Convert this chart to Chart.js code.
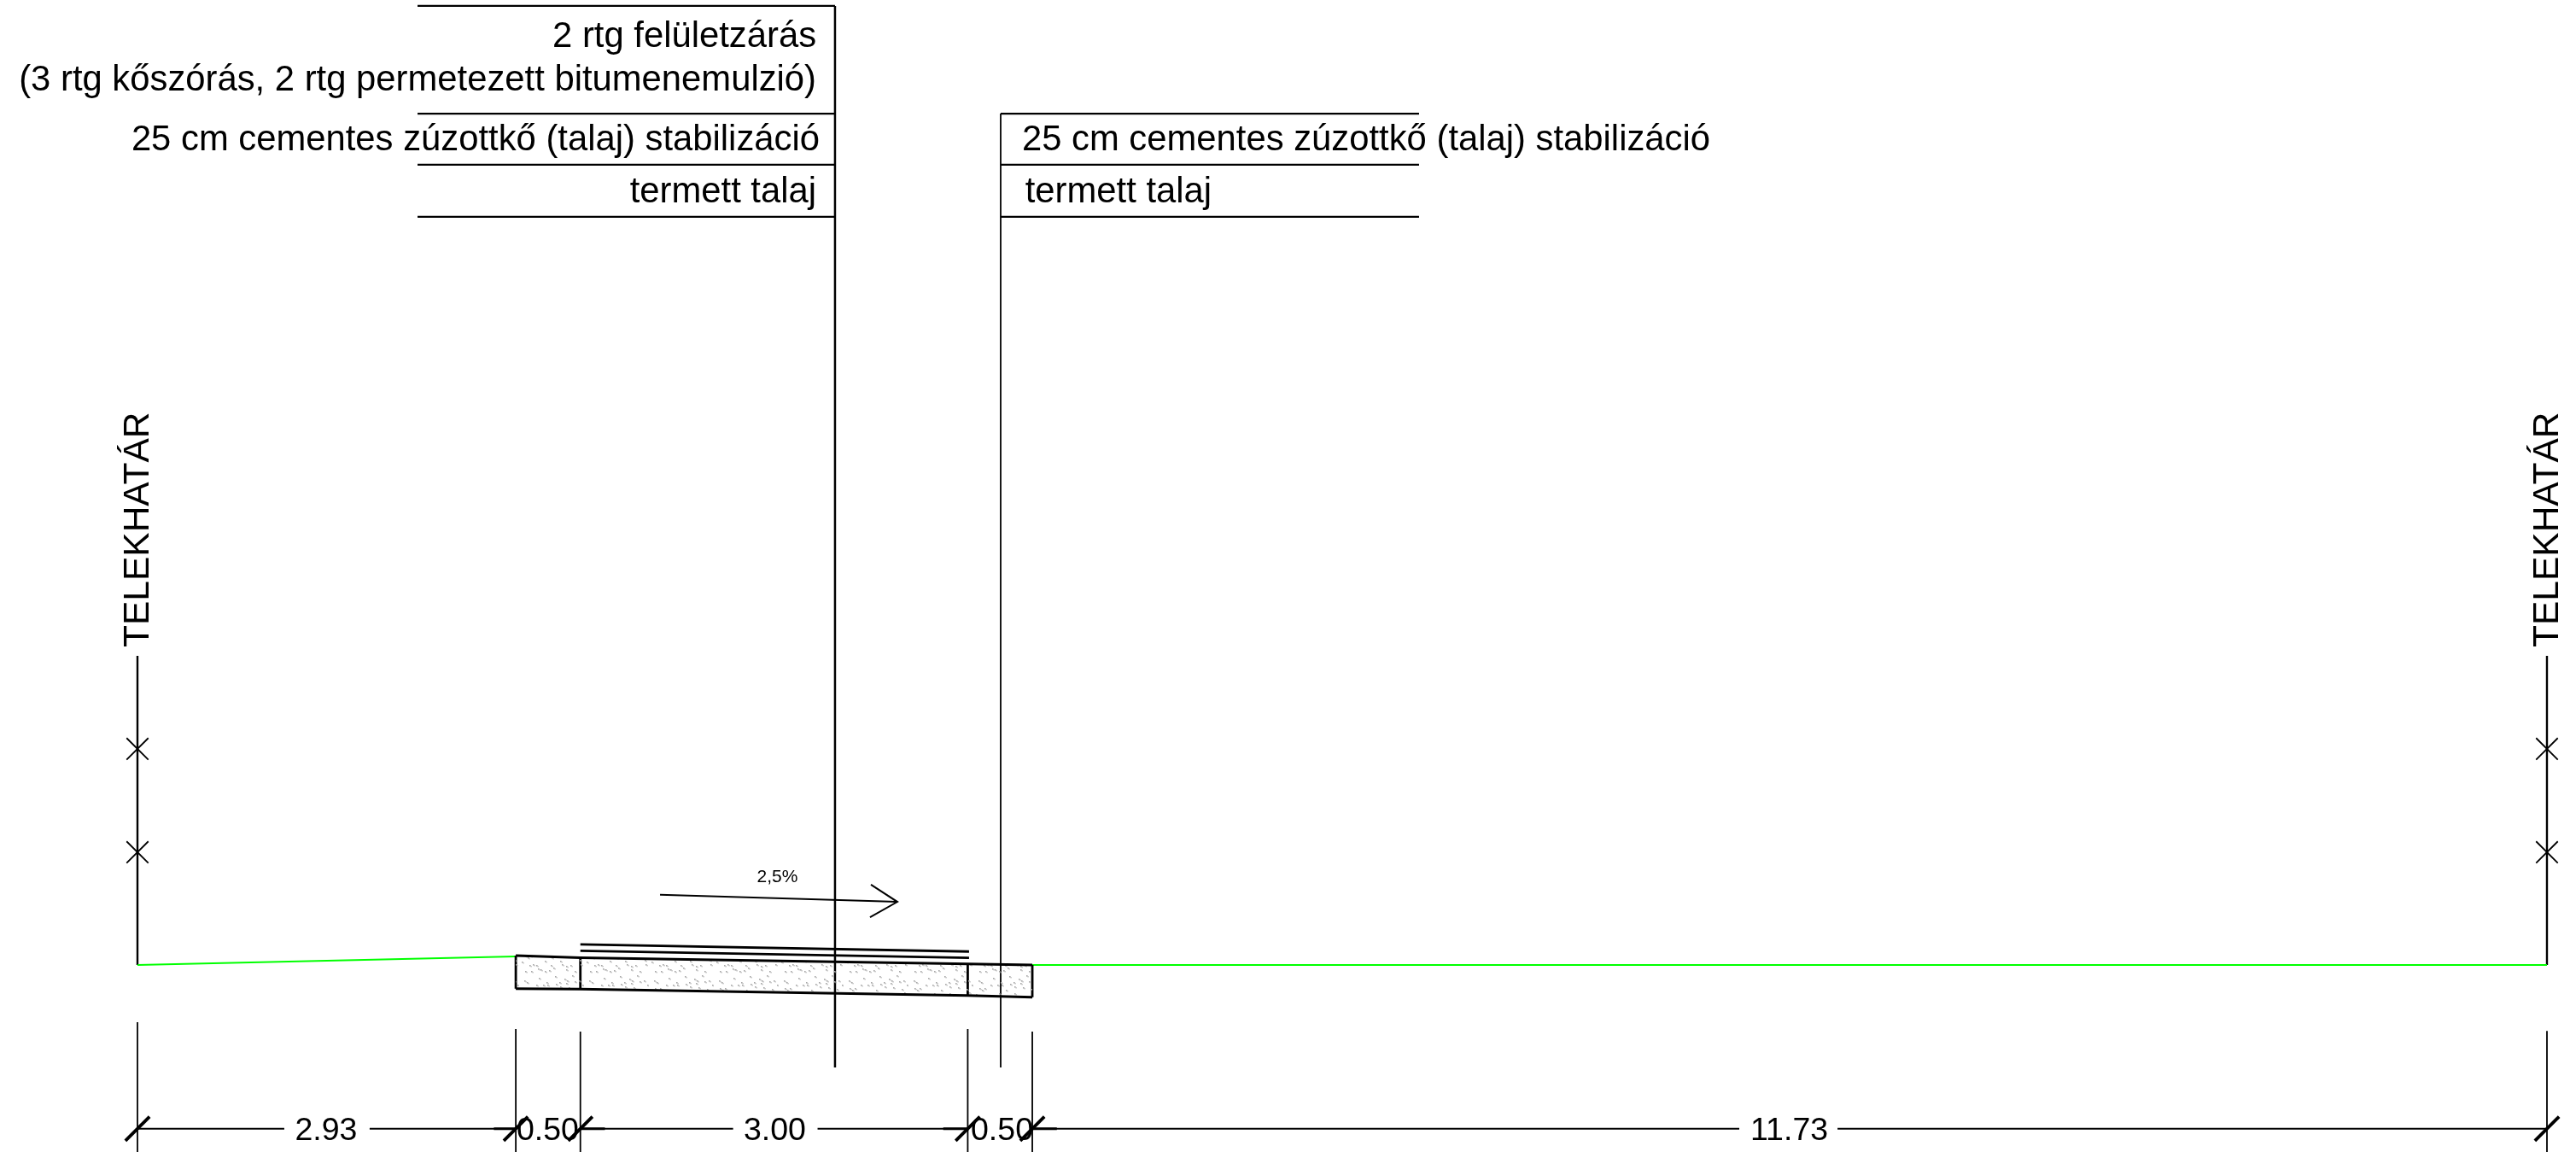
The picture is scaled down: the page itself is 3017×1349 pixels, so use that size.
<!DOCTYPE html>
<html><head><meta charset="utf-8">
<style>html,body{margin:0;padding:0;background:#fff}canvas{display:block}</style>
<script src="https://cdn.jsdelivr.net/npm/chart.js@4"></script>
</head><body><canvas id="c" width="3017" height="1349"></canvas>
<script>
// All values are metres along / above the cross-section.
const dimValues = [2.93, 0.50, 3.00, 0.50, 11.73];
const dimLabels = ['2.93', '0.50', '3.00', '0.50', '11.73'];
const stations = dimValues.reduce((a, v) => a.concat(+(a[a.length - 1] + v).toFixed(2)), [0]);
const pavementStations = stations.slice(1, 5);
const pavementTop = [0.073, 0.057, 0.009, 0];
const pavementBottom = [-0.183, -0.187, -0.236, -0.249];
const shoulderLeftRise = 0.066;
const surfaceUpper = [0.159, 0.104];
const surfaceLower = [0.110, 0.055];
const fenceMarks = [1.673, 0.873];
const layersLeft = ['2 rtg felületzárás', '(3 rtg kőszórás, 2 rtg permetezett bitumenemulzió)', '25 cm cementes zúzottkő (talaj) stabilizáció', 'termett talaj'];
const layersRight = ['25 cm cementes zúzottkő (talaj) stabilizáció', 'termett talaj'];
const boundaryLabel = 'TELEKHATÁR';
const slopeLabel = '2,5%';

// layout, in the same metre units
const k = 151.232;
const xMin = -161 / k, xMax = (3017 - 161) / k, yMax = 1130 / k, yMin = -219 / k;
const leaderL = 5.402, leaderR = 6.685, leaderBottom = -0.793;
const tableL = [2.169, 5.402], tableR = [6.685, 9.925];
const rulesL = [7.426, 6.592, 6.196, 5.793], rulesR = [6.592, 6.196, 5.793];
const dimY = -1.268, extTops = [-0.443, -0.496, -0.516, -0.496, -0.516, -0.510];
const dimRuns = [[0, 1.137], [1.798, 2.93], [3.43, 4.613], [5.267, 6.44], [6.93, 12.405], [13.166, 18.66]];
const dimOvershoots = [[2.76, 2.93], [3.43, 3.62], [6.24, 6.44], [6.93, 7.12]];
const dimTextX = [1.461, 3.177, 4.936, 6.695, 12.792], dimTextY = -1.356;
const boundaryTop = 2.394;
const arrowShaft = [[4.047, 0.544], [5.885, 0.489]];
const arrowHead = [[5.680, 0.622], [5.885, 0.489], [5.673, 0.370]];

const tile = document.createElement('canvas'); tile.width = 76; tile.height = 38;
const tc = tile.getContext('2d'); tc.fillStyle = '#a8a8a8';
[[6,8],[9,10],[23,5],[32,10],[33,13],[28,13],[53,6],[56,8],[55,11],[70,8],[65,9],[58,16],[47,10],[43,12],[7,17],[10,19],[13,17],[20,13],[38,19],[48,15],[68,18],[71,22],[30,23],[16,27],[20,28],[12,28],[37,28],[40,31],[48,23],[50,27],[55,29],[60,28],[72,27],[14,35],[25,33],[30,35],[22,32],[55,33],[7,35],[65,35],[3,24],[42,3],[62,2],[35,34],[74,13]]
  .forEach(p => { tc.fillRect(p[0], p[1], 1.6, 1.6); tc.fillRect(p[0] + 1.5, p[1] + 1.2, 1.2, 1.2); });
const ctxMain = document.getElementById('c').getContext('2d');
const stipple = ctxMain.createPattern(tile, 'repeat');

const pts = (xs, ys) => xs.map((x, i) => ({ x, y: ys[i] }));
const line = (data, w = 2, color = '#000', extra = {}) => ({ data, showLine: true, borderColor: color, borderWidth: w, pointRadius: 0, fill: false, tension: 0, ...extra });
const datasets = [];
// pavement fill (top edge, then bottom edge filled up to it)
datasets.push(line(pts(pavementStations, pavementTop), 3));
datasets.push(line(pts(pavementStations, pavementBottom), 3, '#000', { fill: '-1', backgroundColor: stipple }));
// pavement ends and joints
pavementStations.forEach((s, i) => datasets.push(line(pts([s, s], [pavementTop[i], pavementBottom[i]]), 2.8)));
// wearing course
datasets.push(line(pts([stations[2], 6.44], surfaceUpper), 2.8));
datasets.push(line(pts([stations[2], 6.44], surfaceLower), 2.8));
// natural ground
datasets.push(line(pts([stations[0], stations[1]], [0, shoulderLeftRise]), 2.2, '#00ff00'));
datasets.push(line(pts([stations[4], stations[5]], [0, 0]), 2.2, '#00ff00'));
// layer tables and leaders
rulesL.forEach(y => datasets.push(line(pts(tableL, [y, y]), 2.3)));
rulesR.forEach(y => datasets.push(line(pts(tableR, [y, y]), 2.3)));
datasets.push(line(pts([leaderL, leaderL], [rulesL[0], leaderBottom]), 2.5));
datasets.push(line(pts([leaderR, leaderR], [rulesR[0], leaderBottom]), 1.8));
// slope arrow
datasets.push(line(arrowShaft.map(p => ({ x: p[0], y: p[1] })), 2));
datasets.push(line(arrowHead.map(p => ({ x: p[0], y: p[1] })), 2));
// boundaries with fence marks
[stations[0], stations[5]].forEach(s => {
  datasets.push(line(pts([s, s], [boundaryTop, 0]), 2.4));
  datasets.push({ data: fenceMarks.map(y => ({ x: s, y })), showLine: false, pointStyle: 'crossRot', pointRadius: 18, pointBorderWidth: 1.8, pointBorderColor: '#000', pointBackgroundColor: '#000' });
});
// dimension chain
stations.forEach((s, i) => datasets.push(line(pts([s, s], [extTops[i], yMin]), 1.8)));
dimRuns.forEach(r => datasets.push(line(pts(r, [dimY, dimY]), 2)));
dimOvershoots.forEach(r => datasets.push(line(pts(r, [dimY, dimY]), 3)));
datasets.push({ data: stations.map(x => ({ x, y: dimY })), showLine: false, pointStyle: 'line', pointRotation: -45, pointRadius: 20, pointBorderWidth: 3.8, pointBorderColor: '#000' });

const textPlugin = {
  id: 'drawingText',
  afterDatasetsDraw(chart) {
    const { ctx, scales: { x, y } } = chart;
    const put = (t, xv, yv, size, align, rot) => {
      ctx.save();
      ctx.translate(x.getPixelForValue(xv), y.getPixelForValue(yv));
      if (rot) ctx.rotate(rot);
      ctx.font = size + 'px "Liberation Sans"';
      ctx.fillStyle = '#000'; ctx.textAlign = align; ctx.textBaseline = 'alphabetic';
      ctx.fillText(t, 0, 0);
      ctx.restore();
    };
    const size = 41.8;
    [[7.108, 5.257], [6.771, 5.257], [6.305, 5.283], [5.908, 5.257]].forEach((p, i) => put(layersLeft[i], p[1], p[0], size, 'right'));
    put(layersRight[0], 6.850, 6.305, size, 'left');
    put(layersRight[1], 6.875, 5.908, size, 'left');
    dimLabels.forEach((t, i) => put(t, dimTextX[i], dimTextY, 37.5, 'center'));
    put(boundaryLabel, 0.086, 2.46, 42.5, 'left', -Math.PI / 2);
    put(boundaryLabel, 18.746, 2.46, 42.5, 'left', -Math.PI / 2);
    put(slopeLabel, 4.956, 0.641, 21, 'center');
  }
};

new Chart(ctxMain, {
  type: 'scatter',
  data: { datasets },
  options: {
    responsive: false, animation: false, devicePixelRatio: 1,
    layout: { padding: 0, autoPadding: false },
    plugins: { legend: { display: false }, tooltip: { enabled: false } },
    scales: {
      x: { type: 'linear', display: false, min: xMin, max: xMax },
      y: { type: 'linear', display: false, min: yMin, max: yMax }
    }
  },
  plugins: [textPlugin]
});
</script></body></html>
